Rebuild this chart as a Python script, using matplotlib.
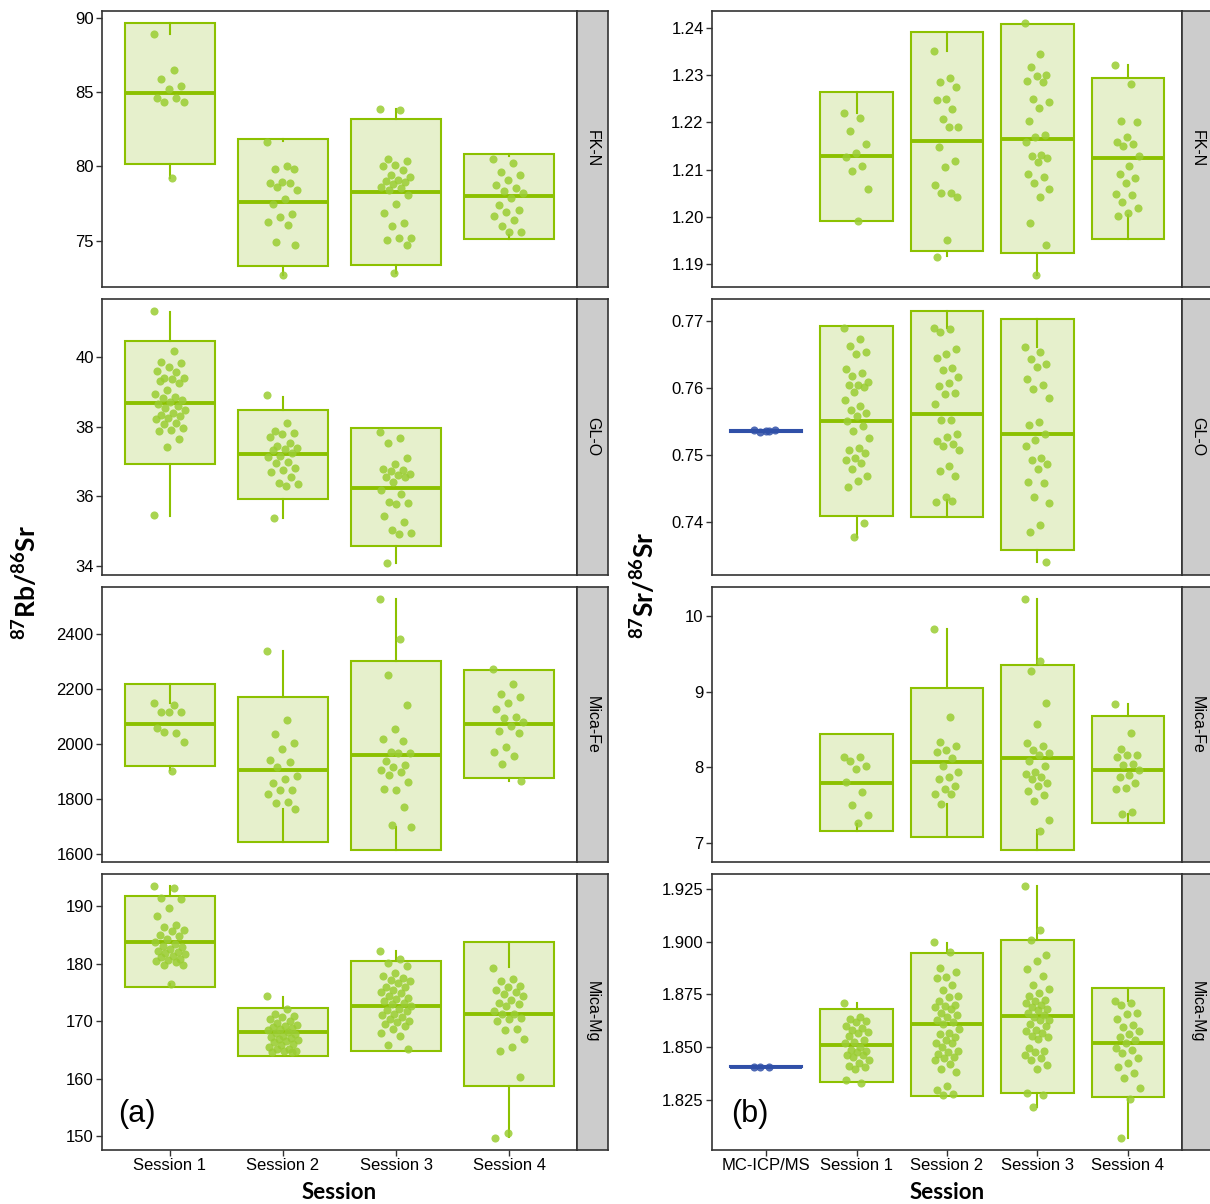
import matplotlib
matplotlib.use('Agg')
import matplotlib.pyplot as plt
from matplotlib.patches import Rectangle
import numpy as np

plt.rcParams['font.family'] = ['Liberation Sans', 'DejaVu Sans']
plt.rcParams['mathtext.fontset'] = 'custom'
plt.rcParams['mathtext.rm'] = 'Lato'
plt.rcParams['mathtext.bf'] = 'Lato:bold'

# categories
sessions_a = ['Session 1', 'Session 2', 'Session 3', 'Session 4']
sessions_b = ['MC-ICP/MS', 'Session 1', 'Session 2', 'Session 3', 'Session 4']
materials = ['FK-N', 'GL-O', 'Mica-Fe', 'Mica-Mg']

# box stats per session: (low, median, high, whisker low end, whisker high end)
# ---------------- (a) 87Rb/86Sr ----------------
rb_fkn_box = [(80.16, 84.93, 89.64, 79.2, 88.9),
              (73.3, 77.6, 81.88, 72.7, 81.7),
              (73.4, 78.27, 83.16, 72.85, 83.83),
              (75.11, 78.0, 80.85, 75.4, 80.7)]
rb_fkn_pts = [[88.9, 86.5, 85.9, 85.4, 85.2, 84.6, 84.6, 84.35, 84.35, 79.2],
              [81.64, 80.0, 79.8, 79.84, 78.97, 78.86, 78.88, 78.6, 78.4, 77.8,
               77.5, 76.8, 76.6, 76.3, 76.1, 74.95, 74.75, 72.7],
              [83.86, 83.8, 80.5, 80.36, 80.07, 80.0, 79.75, 79.4, 79.3, 79.1,
               79.0, 78.95, 78.8, 78.65, 78.57, 78.45, 78.1, 77.47, 76.9, 76.17,
               76.03, 75.22, 75.18, 75.04, 74.73, 72.83],
              [80.5, 80.25, 79.6, 79.4, 79.1, 78.77, 78.55, 78.36, 78.23, 77.87,
               77.42, 77.1, 76.93, 76.7, 76.4, 75.99, 75.6, 75.58]]

rb_glo_box = [(36.91, 38.69, 40.46, 35.44, 41.31),
              (35.92, 37.22, 38.49, 35.38, 38.86),
              (34.55, 36.23, 37.95, 34.08, 37.95),
              None]
rb_glo_pts = [[41.32, 40.18, 39.85, 39.82, 39.72, 39.59, 39.57, 39.4, 39.39, 39.36,
               39.32, 39.26, 39.05, 38.93, 38.84, 38.81, 38.77, 38.7, 38.65, 38.6,
               38.54, 38.47, 38.38, 38.33, 38.3, 38.25, 38.21, 38.11, 38.07, 37.95,
               37.9, 37.88, 37.65, 37.42, 35.45],
              [38.9, 38.09, 37.88, 37.82, 37.78, 37.69, 37.52, 37.44, 37.38, 37.36,
               37.32, 37.23, 37.16, 37.13, 36.98, 36.96, 36.82, 36.75, 36.68, 36.56,
               36.39, 36.34, 36.28, 35.37],
              [37.85, 37.66, 37.52, 37.1, 36.91, 36.78, 36.74, 36.71, 36.64, 36.6,
               36.56, 36.54, 36.41, 36.17, 36.05, 35.83, 35.79, 35.76, 35.43, 35.26,
               35.02, 34.94, 34.92, 34.07],
              []]

rb_fe_box = [(1918, 2070, 2216, 1904, 2149),
             (1642, 1906, 2171, 1764, 2336),
             (1616, 1958, 2299, 1699, 2525),
             (1876, 2073, 2269, 1864, 2269)]
rb_fe_pts = [[2149, 2140, 2114, 2114, 2114, 2057, 2039, 2042, 2005, 1902],
             [2337, 2086, 2035, 2004, 1980, 1941, 1935, 1916, 1883, 1873,
              1859, 1834, 1831, 1816, 1789, 1786, 1763],
             [2527, 2380, 2248, 2139, 2055, 2019, 2010, 1969, 1967, 1965,
              1937, 1924, 1914, 1905, 1896, 1886, 1863, 1834, 1836, 1771,
              1705, 1699],
             [2270, 2216, 2180, 2171, 2148, 2128, 2098, 2095, 2078, 2063,
              2047, 2039, 1989, 1971, 1954, 1928, 1865]]

rb_mg_box = [(175.9, 183.8, 191.7, 176.5, 193.5),
             (164.0, 168.1, 172.26, 164.0, 174.2),
             (164.9, 172.7, 180.4, 164.9, 182.2),
             (158.7, 171.3, 183.7, 149.9, 179.4)]
rb_mg_pts = [[193.5, 193.2, 191.5, 191.3, 189.7, 188.3, 186.8, 186.4, 185.9, 185.7,
              185.0, 184.8, 184.3, 183.8, 183.4, 183.0, 182.9, 182.6, 182.2, 182.0,
              181.8, 181.6, 181.4, 181.1, 180.8, 180.6, 180.5, 180.3, 179.8, 179.7,
              176.5],
             [174.3, 172.1, 171.2, 170.9, 170.8, 170.3, 170.0, 169.7, 169.4, 169.2,
              169.0, 168.9, 168.7, 168.5, 168.1, 167.9, 167.7, 167.5, 167.2, 167.0,
              166.9, 166.7, 166.5, 166.3, 166.1, 165.8, 165.5, 165.2, 165.1, 164.9,
              164.8, 164.7, 164.6],
             [182.2, 180.9, 180.1, 179.6, 178.3, 177.8, 177.5, 177.1, 177.0, 176.6,
              176.0, 175.9, 175.4, 175.0, 174.9, 174.4, 174.0, 173.9, 173.5, 173.1,
              173.0, 172.6, 172.2, 172.0, 171.7, 171.2, 171.0, 170.8, 170.3, 170.0,
              169.9, 169.5, 169.1, 168.6, 168.0, 167.4, 165.8, 165.2],
             [179.3, 177.4, 177.0, 176.2, 176.0, 175.5, 175.0, 174.7, 174.4, 173.6,
              173.2, 173.0, 172.6, 171.8, 171.3, 171.2, 170.6, 170.3, 170.1, 168.6,
              168.5, 166.9, 165.5, 164.9, 160.3, 150.5, 149.7]]

# ---------------- (b) 87Sr/86Sr ----------------
sr_fkn_box = [None,
              (1.1992, 1.2128, 1.2263, 1.1992, 1.2220),
              (1.1927, 1.2160, 1.2390, 1.1917, 1.2350),
              (1.1923, 1.2165, 1.2407, 1.1877, 1.2407),
              (1.1953, 1.2124, 1.2293, 1.2005, 1.2320)]
sr_fkn_pts = [[],
              [1.2219, 1.2208, 1.2181, 1.2154, 1.2135, 1.2127, 1.2108, 1.2098, 1.2059, 1.1992],
              [1.2351, 1.2294, 1.2286, 1.2275, 1.2249, 1.2247, 1.2228, 1.2207, 1.2190, 1.2190,
               1.2147, 1.2119, 1.2105, 1.2067, 1.2051, 1.2050, 1.2042, 1.1952, 1.1915],
              [1.2410, 1.2345, 1.2316, 1.2300, 1.2297, 1.2287, 1.2284, 1.2249, 1.2242, 1.2230,
               1.2202, 1.2173, 1.2169, 1.2158, 1.2131, 1.2129, 1.2125, 1.2116, 1.2090, 1.2085,
               1.2072, 1.2060, 1.2042, 1.1987, 1.1941, 1.1877],
              [1.2320, 1.2280, 1.2202, 1.2200, 1.2169, 1.2158, 1.2154, 1.2149, 1.2128, 1.2108,
               1.2091, 1.2083, 1.2071, 1.2048, 1.2047, 1.2031, 1.2019, 1.2009, 1.2003]]

sr_glo_box = [(0.75345, 0.7536, 0.75375, 0.75345, 0.75375),
              (0.7409, 0.7551, 0.7692, 0.7378, 0.7692),
              (0.7408, 0.7561, 0.7715, 0.7433, 0.7689),
              (0.7359, 0.7532, 0.7703, 0.7340, 0.7661),
              None]
sr_glo_pts = [[0.7537, 0.7536, 0.7535, 0.7537, 0.7536],
              [0.7690, 0.7674, 0.7663, 0.7654, 0.7651, 0.7628, 0.7622, 0.7618, 0.7609, 0.7605,
               0.7604, 0.7602, 0.7594, 0.7582, 0.7574, 0.7567, 0.7563, 0.7559, 0.7551, 0.7543,
               0.7536, 0.7526, 0.7511, 0.7507, 0.7503, 0.7496, 0.7492, 0.7488, 0.7479, 0.7469,
               0.7462, 0.7453, 0.7399, 0.7378],
              [0.7689, 0.7688, 0.7683, 0.7659, 0.7651, 0.7645, 0.7630, 0.7627, 0.7616, 0.7607,
               0.7603, 0.7593, 0.7591, 0.7577, 0.7553, 0.7553, 0.7531, 0.7527, 0.7521, 0.7517,
               0.7513, 0.7507, 0.7484, 0.7476, 0.7469, 0.7437, 0.7430, 0.7431],
              [0.7661, 0.7654, 0.7644, 0.7636, 0.7631, 0.7614, 0.7604, 0.7598, 0.7585, 0.7550,
               0.7545, 0.7532, 0.7522, 0.7514, 0.7495, 0.7493, 0.7487, 0.7479, 0.7460, 0.7459,
               0.7438, 0.7428, 0.7395, 0.7385, 0.7340],
              []]

sr_fe_box = [None,
             (7.16, 7.80, 8.44, 7.25, 8.44),
             (7.08, 8.07, 9.05, 7.52, 9.83),
             (6.91, 8.13, 9.36, 7.17, 10.23),
             (7.27, 7.97, 8.68, 7.38, 8.84)]
sr_fe_pts = [[],
             [8.14, 8.14, 8.09, 8.02, 7.98, 7.81, 7.68, 7.51, 7.37, 7.26],
             [9.83, 8.67, 8.34, 8.28, 8.23, 8.20, 8.13, 8.02, 7.94, 7.88,
              7.85, 7.76, 7.71, 7.65, 7.65, 7.52],
             [10.23, 9.41, 9.28, 8.85, 8.57, 8.32, 8.29, 8.23, 8.19, 8.17,
              8.08, 8.02, 7.94, 7.91, 7.88, 7.85, 7.80, 7.75, 7.69, 7.63,
              7.55, 7.30, 7.16],
             [8.84, 8.46, 8.24, 8.17, 8.16, 8.14, 8.04, 8.03, 7.96, 7.90,
              7.88, 7.80, 7.73, 7.71, 7.41, 7.38]]

sr_mg_box = [(1.8403, 1.8406, 1.8409, 1.8403, 1.8409),
             (1.8334, 1.8511, 1.8680, 1.8334, 1.8707),
             (1.8267, 1.8611, 1.8948, 1.8267, 1.8995),
             (1.8282, 1.8649, 1.9010, 1.8214, 1.9264),
             (1.8264, 1.8521, 1.8778, 1.8070, 1.8718)]
sr_mg_pts = [[1.8405, 1.8406, 1.8407],
             [1.8707, 1.8642, 1.8633, 1.8625, 1.8620, 1.8601, 1.8592, 1.8581, 1.8570, 1.8565,
              1.8554, 1.8533, 1.8522, 1.8520, 1.8502, 1.8486, 1.8480, 1.8478, 1.8462, 1.8460,
              1.8451, 1.8438, 1.8426, 1.8410, 1.8407, 1.8394, 1.8343, 1.8331],
             [1.8997, 1.8949, 1.8873, 1.8858, 1.8830, 1.8826, 1.8794, 1.8771, 1.8740, 1.8736,
              1.8718, 1.8700, 1.8696, 1.8690, 1.8679, 1.8660, 1.8650, 1.8644, 1.8628, 1.8620,
              1.8609, 1.8584, 1.8568, 1.8560, 1.8549, 1.8533, 1.8521, 1.8520, 1.8500, 1.8480,
              1.8478, 1.8467, 1.8454, 1.8450, 1.8438, 1.8418, 1.8396, 1.8381, 1.8315, 1.8296,
              1.8277, 1.8272],
             [1.9264, 1.9055, 1.9010, 1.8937, 1.8910, 1.8870, 1.8837, 1.8794, 1.8774, 1.8755,
              1.8742, 1.8723, 1.8720, 1.8707, 1.8700, 1.8691, 1.8680, 1.8676, 1.8660, 1.8650,
              1.8644, 1.8630, 1.8628, 1.8609, 1.8600, 1.8580, 1.8577, 1.8565, 1.8550, 1.8549,
              1.8536, 1.8494, 1.8480, 1.8478, 1.8462, 1.8446, 1.8438, 1.8415, 1.8394, 1.8283,
              1.8272, 1.8214],
             [1.8718, 1.8710, 1.8699, 1.8663, 1.8657, 1.8631, 1.8604, 1.8593, 1.8577, 1.8562,
              1.8549, 1.8533, 1.8517, 1.8497, 1.8486, 1.8470, 1.8446, 1.8426, 1.8407, 1.8378,
              1.8351, 1.8304, 1.8255, 1.8070]]

rb_boxes = [rb_fkn_box, rb_glo_box, rb_fe_box, rb_mg_box]
rb_points = [rb_fkn_pts, rb_glo_pts, rb_fe_pts, rb_mg_pts]
sr_boxes = [sr_fkn_box, sr_glo_box, sr_fe_box, sr_mg_box]
sr_points = [sr_fkn_pts, sr_glo_pts, sr_fe_pts, sr_mg_pts]

rb_ylims = [(71.9, 90.45), (33.73, 41.67), (1571, 2569), (147.6, 195.6)]
rb_ticks = [[75, 80, 85, 90], [34, 36, 38, 40], [1600, 1800, 2000, 2200, 2400],
            [150, 160, 170, 180, 190]]
sr_ylims = [(1.1852, 1.2435), (0.7321, 0.7733), (6.75, 10.386), (1.8011, 1.9321)]
sr_ticks = [[1.19, 1.20, 1.21, 1.22, 1.23, 1.24], [0.74, 0.75, 0.76, 0.77],
            [7, 8, 9, 10], [1.825, 1.850, 1.875, 1.900, 1.925]]
sr_fmt = ['%.2f', '%.2f', '%g', '%.3f']

GREEN = '#8cc100'
FILL = '#e6f0cc'
DOT = '#9acd32'
BLUE = '#3050a8'

W, H = 1210, 1204
fig = plt.figure(figsize=(W / 100, H / 100), dpi=100)

rows = [(11, 287), (299, 575), (587, 862), (874, 1150)]
strip_w = 31


def add_px_axes(x0, x1, y0, y1):
    return fig.add_axes([x0 / W, 1 - y1 / H, (x1 - x0) / W, (y1 - y0) / H])


def draw_panel(ax, boxes, points, colors):
    for i, (b, pts) in enumerate(zip(boxes, points)):
        x = i + 1
        col = colors[i]
        if b is not None:
            lo, med, hi, wlo, whi = b
            fc = FILL if col == GREEN else col
            ax.add_patch(Rectangle((x - 0.4, lo), 0.8, hi - lo, fc=fc, ec=col,
                                   lw=1.5, zorder=2))
            ax.plot([x, x], [hi, whi], color=col, lw=1.5, zorder=2)
            ax.plot([x, x], [lo, wlo], color=col, lw=1.5, zorder=2)
            ax.plot([x - 0.4, x + 0.4], [med, med], color=col, lw=2.8, zorder=3,
                    solid_capstyle='butt')
        if len(pts):
            n = len(pts)
            # quasi-even horizontal jitter
            off = (np.arange(n) * 0.618034) % 1.0 - 0.5
            ax.scatter(x + off * 0.28, pts, s=34, color=(DOT if col == GREEN else col),
                       alpha=0.85, lw=0, zorder=4)


def add_strip(x0, y0, y1, label):
    sa = add_px_axes(x0, x0 + strip_w, y0, y1)
    sa.set_facecolor('#cccccc')
    sa.set_xticks([])
    sa.set_yticks([])
    for s in sa.spines.values():
        s.set_color('#333333')
        s.set_linewidth(1.2)
    sa.text(0.5, 0.5, label, rotation=270, ha='center', va='center',
            fontsize=11.5, transform=sa.transAxes)


def style_axes(ax):
    for s in ax.spines.values():
        s.set_color('#333333')
        s.set_linewidth(1.2)
    ax.tick_params(axis='both', length=4, width=1, color='#333333',
                   labelsize=12, labelcolor='black', pad=2)


for r, (y0, y1) in enumerate(rows):
    # left column (a)
    ax = add_px_axes(102, 577, y0, y1)
    draw_panel(ax, rb_boxes[r], rb_points[r], [GREEN] * 4)
    ax.set_xlim(0.4, 4.6)
    ax.set_ylim(*rb_ylims[r])
    ax.set_yticks(rb_ticks[r])
    ax.set_xticks(range(1, 5))
    style_axes(ax)
    if r < 3:
        ax.tick_params(axis='x', bottom=False, labelbottom=False)
    else:
        ax.set_xticklabels(sessions_a)
        ax.set_xlabel('Session', fontsize=16, fontweight='bold', family='Lato', labelpad=6)
        ax.text(0.035, 0.13, '(a)', fontsize=22, transform=ax.transAxes,
                ha='left', va='center')
    add_strip(577, y0, y1, materials[r])

    # right column (b)
    ax = add_px_axes(712, 1182, y0, y1)
    draw_panel(ax, sr_boxes[r], sr_points[r], [BLUE] + [GREEN] * 4)
    ax.set_xlim(0.4, 5.6)
    ax.set_ylim(*sr_ylims[r])
    ax.set_yticks(sr_ticks[r])
    ax.set_yticklabels([sr_fmt[r] % t for t in sr_ticks[r]])
    ax.set_xticks(range(1, 6))
    style_axes(ax)
    if r < 3:
        ax.tick_params(axis='x', bottom=False, labelbottom=False)
    else:
        ax.set_xticklabels(sessions_b)
        ax.set_xlabel('Session', fontsize=16, fontweight='bold', family='Lato', labelpad=6)
        ax.text(0.04, 0.13, '(b)', fontsize=22, transform=ax.transAxes,
                ha='left', va='center')
    add_strip(1182, y0, y1, materials[r])

fig.text(27 / W, 1 - 582 / H, r'$\mathbf{^{87}Rb/^{86}Sr}$', rotation=90,
         fontsize=19, ha='center', va='center')
fig.text(645 / W, 1 - 585 / H, r'$\mathbf{^{87}Sr/^{86}Sr}$', rotation=90,
         fontsize=19, ha='center', va='center')

fig.savefig('out.png', dpi=100)
